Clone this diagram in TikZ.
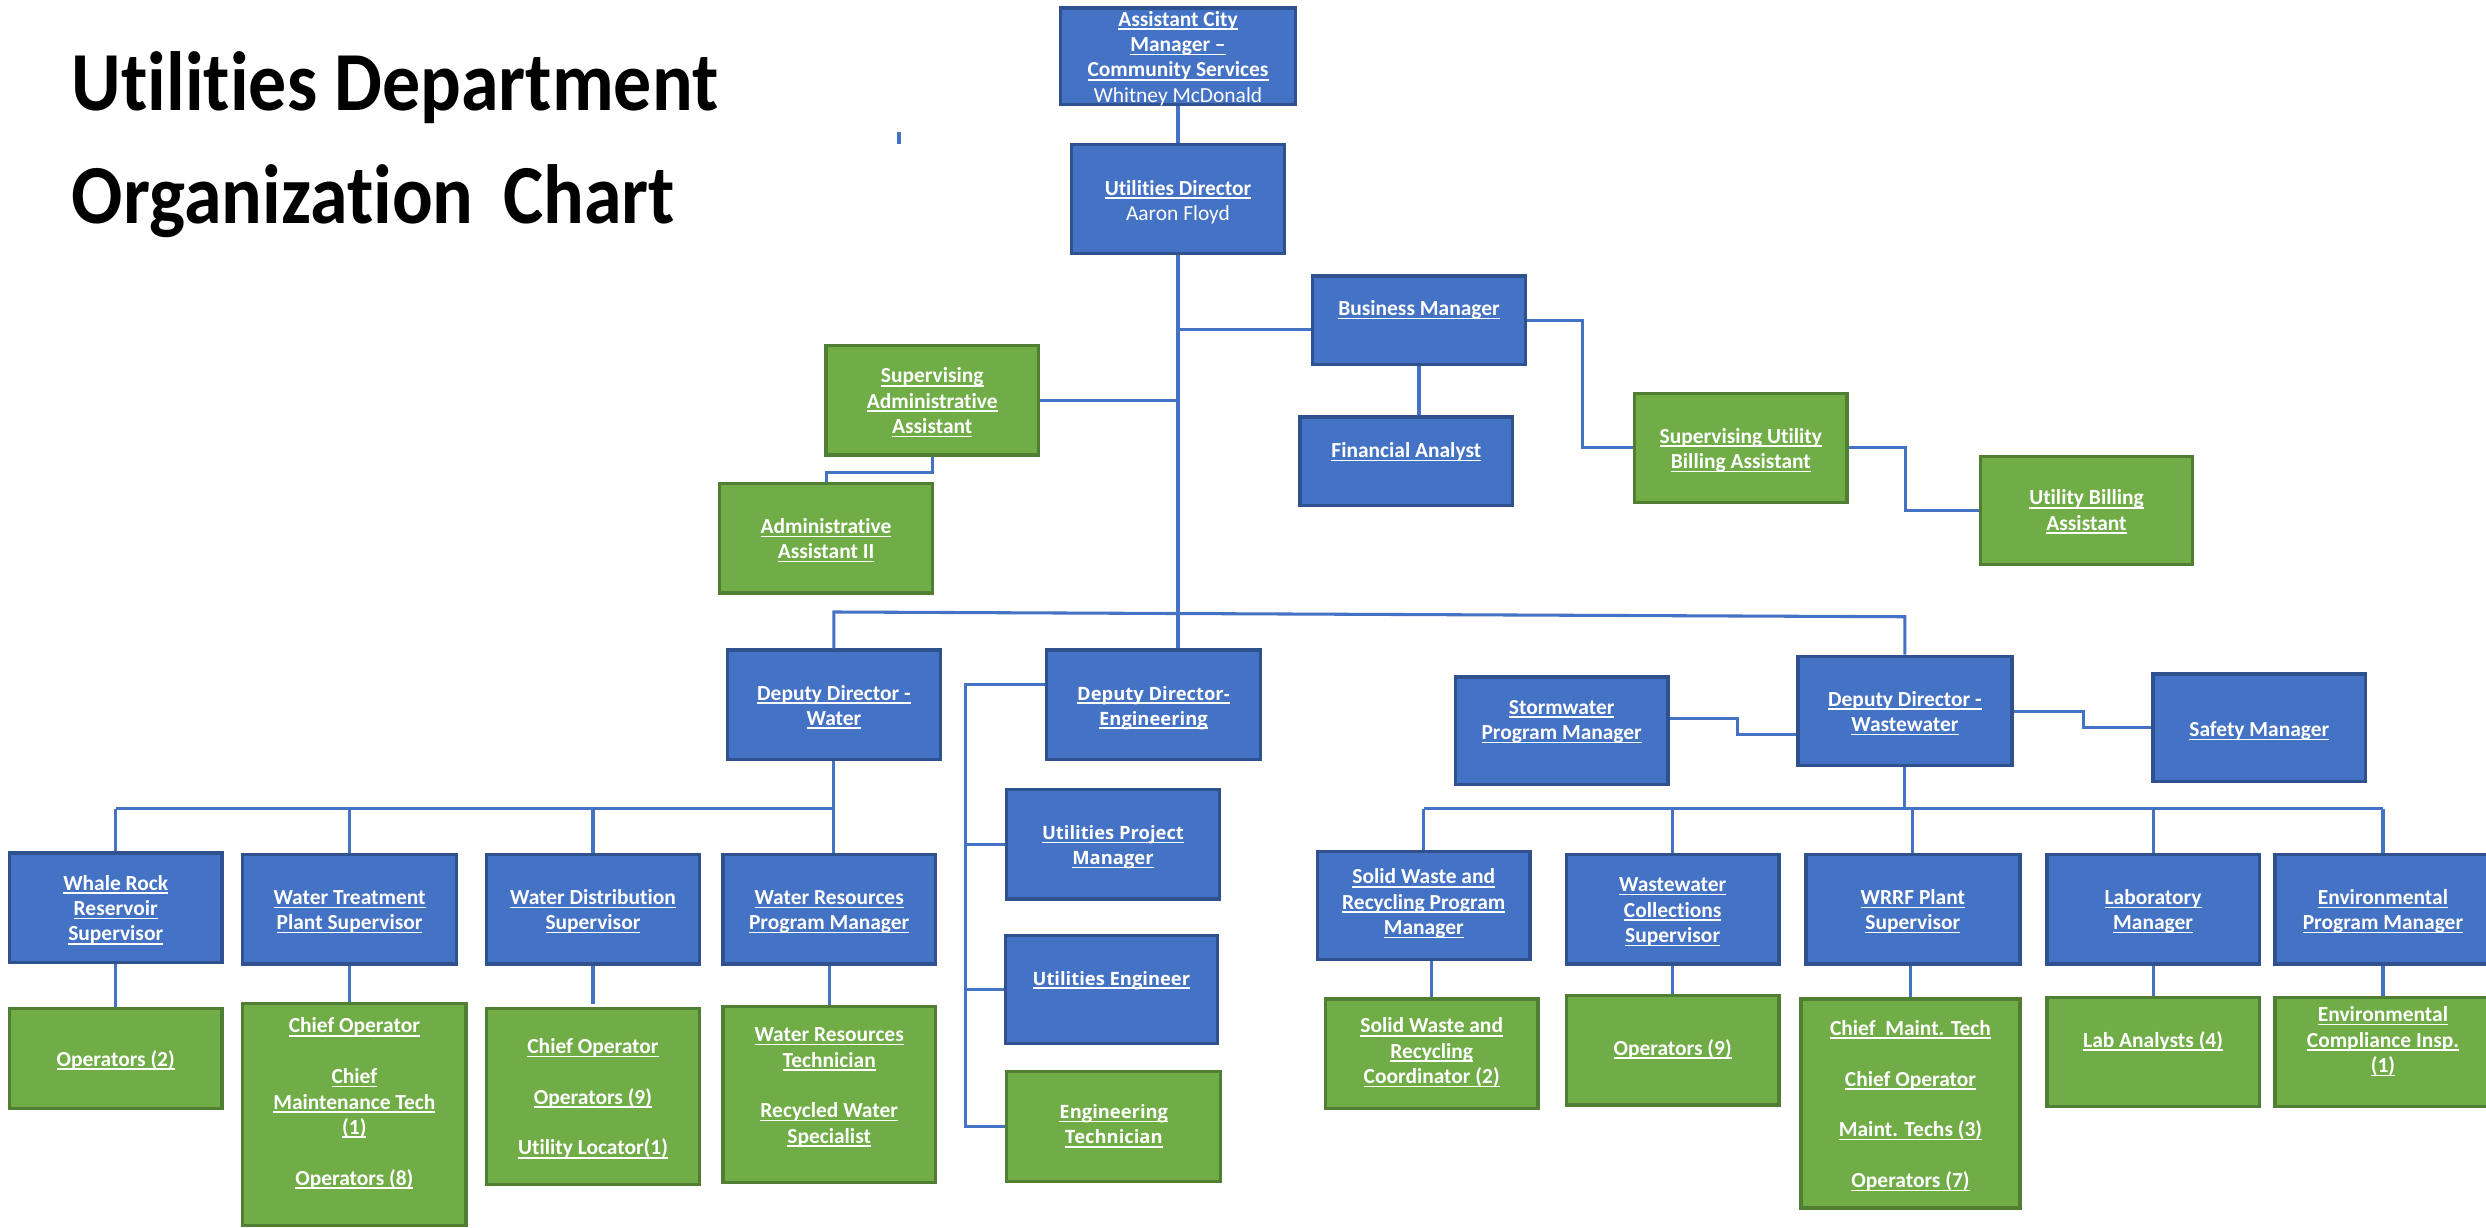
\documentclass[tikz,border=0pt]{standalone}
\usepackage{fontspec}
\setmainfont{Carlito}[Ligatures=NoCommon]
\newfontfamily\segoefont{Open Sans}[Ligatures=NoCommon]
\newfontfamily\titlefont{Carlito}[Ligatures=NoCommon]
\usetikzlibrary{fit}
\definecolor{bfill}{HTML}{4472C4}
\definecolor{bdraw}{HTML}{2F528F}
\definecolor{gfill}{HTML}{70AD47}
\definecolor{gdraw}{HTML}{507E32}
\definecolor{lineblue}{HTML}{4472C4}
\newcommand\undl[1]{\smash{\sbox0{#1}\rlap{\rule[-1.3pt]{\wd0}{0.55pt}}\usebox0}}
\newcommand\plainl[1]{\smash{#1}}
\begin{document}
\begin{tikzpicture}[x=0.02cm,y=-0.02cm,
  bx/.style={rectangle, draw=bdraw, fill=bfill, line width=1.2pt, inner sep=0pt},
  gx/.style={rectangle, draw=gdraw, fill=gfill, line width=1.2pt, inner sep=0pt},
  lbl/.style={text=white, font=\bfseries\fontsize{7.7}{9.1}\selectfont, align=center, inner sep=0pt},
  elbl/.style={text=white, font=\segoefont\bfseries\fontsize{6.6}{9.1}\selectfont, align=center, inner sep=0pt},
  cn/.style={draw=lineblue, line width=1.1pt}]
\useasboundingbox (0,0) rectangle (1568,774);

% title
\node[anchor=base west, inner sep=0pt] (title1) at (45,69.5) {\scalebox{0.94}[1.04]{\titlefont\bfseries\fontsize{29}{29}\selectfont Utilities Department}};
\node[anchor=base west, inner sep=0pt] (title2) at (45,141) {\scalebox{0.94}[1.04]{\titlefont\bfseries\fontsize{29}{29}\selectfont Organization\, Chart}};

% stray tick
\coordinate (tickA) at (567,83);
\coordinate (tickB) at (567,91);
\draw[cn] (tickA) -- (tickB);

% boxes
\node[bx, fit={(669,5) (817,66)}] (acm) {};
\node[bx, fit={(676,91) (810,160)}] (ud) {};
\node[bx, fit={(828,174) (962,230)}] (bm) {};
\node[bx, fit={(820,263) (954,319)}] (fa) {};
\node[gx, fit={(1031,248) (1165,317)}] (suba) {};
\node[gx, fit={(1249,288) (1383,356)}] (uba) {};
\node[gx, fit={(521,218) (655,287)}] (saa) {};
\node[gx, fit={(454,305) (588,374)}] (aa2) {};
\node[bx, fit={(459,410) (593,479)}] (ddw) {};
\node[bx, fit={(660,410) (795,479)}] (dde) {};
\node[bx, fit={(1134,414) (1269,483)}] (ddww) {};
\node[bx, fit={(918,427) (1052,495)}] (spm) {};
\node[bx, fit={(1358,425) (1492,493)}] (sm) {};
\node[bx, fit={(6,538) (140,607)}] (wr) {};
\node[bx, fit={(153,539) (288,608)}] (wt) {};
\node[bx, fit={(307,539) (441,608)}] (wd) {};
\node[bx, fit={(456,539) (590,608)}] (wrpm) {};
\node[gx, fit={(6,636) (140,699)}] (ops2) {};
\node[gx, fit={(153,633) (294,773)}] (wtg) {};
\node[gx, fit={(307,636) (441,747)}] (wdg) {};
\node[gx, fit={(456,635) (590,746)}] (wrpmg) {};
\node[bx, fit={(635,498) (769,567)}] (upm) {};
\node[bx, fit={(634,590) (768,658)}] (ue) {};
\node[gx, fit={(635,676) (770,745)}] (et) {};
\node[bx, fit={(831,537) (965,605)}] (swpm) {};
\node[bx, fit={(988,539) (1122,608)}] (wcs) {};
\node[bx, fit={(1139,539) (1274,608)}] (wrrf) {};
\node[bx, fit={(1291,539) (1425,608)}] (lm) {};
\node[bx, fit={(1435,539) (1571,608)}] (epm) {};
\node[gx, fit={(836,630) (970,699)}] (swg) {};
\node[gx, fit={(988,628) (1122,697)}] (ops9) {};
\node[gx, fit={(1136,630) (1274,762)}] (wrrfg) {};
\node[gx, fit={(1291,629) (1425,698)}] (lab) {};
\node[gx, fit={(1435,629) (1571,698)}] (eci) {};

% connectors
\draw[cn] (acm.south) -- (ud.north);
\draw[cn] (ud.south) -- (ud.south |- dde.north);
\draw[cn] (ud.south |- 0,208) -- (bm.west |- 0,208);
\draw[cn] (fa.north -| bm.south) -- (bm.south);
\draw[cn] (bm.east) -- ++(35,0) |- (suba.west);
\draw[cn] (suba.east) -- ++(36,0) |- (uba.west);
\draw[cn] (saa.east) -- (saa.east -| ud.south);
\draw[cn] (saa.south) -- ++(0,10) -| (aa2.north);
\coordinate (busL) at (ddw.north |- 0,386);
\draw[cn] (ddw.north) -- (busL) -- (ddww.north |- 0,389) -- (ddww.north);
% water
\coordinate (wb) at (ddw.south |- 0,510);
\draw[cn] (ddw.south) -- (ddw.south |- wrpm.north);
\draw[cn] (wr.north |- wb) -- (wb);
\draw[cn] (wr.north |- wb) -- (wr.north);
\draw[cn] (wt.north |- wb) -- (wt.north);
\draw[cn] (wd.north |- wb) -- (wd.north);
\draw[cn] (ops2.north |- wr.south) -- (ops2.north);
\draw[cn] (wtg.north -| wt.south) -- (wt.south);
\draw[cn] (wd.south) -- ([yshift=0.04cm]wdg.north);
\draw[cn] (wrpmg.north -| wrpm.south) -- (wrpm.south);
% engineering
\coordinate (ej) at (609,432);
\draw[cn] (dde.west |- ej) -- (ej) |- (et.west);
\draw[cn] (ej |- upm.west) -- (upm.west);
\draw[cn] (ej |- ue.west) -- (ue.west);
% wastewater
\draw[cn] (spm.east |- 0,453) -- ++(43,0) |- (ddww.west |- 0,463);
\draw[cn] (ddww.east) -- ++(44,0) |- (sm.west);
\coordinate (wwb) at (ddww.south |- 0,510);
\draw[cn] (ddww.south) -- (wwb);
\draw[cn] (swpm.north |- wwb) -- (epm.north |- wwb);
\draw[cn] (swpm.north |- wwb) -- (swpm.north);
\draw[cn] (wcs.north |- wwb) -- (wcs.north);
\draw[cn] (wrrf.north |- wwb) -- (wrrf.north);
\draw[cn] (lm.north |- wwb) -- (lm.north);
\draw[cn] (epm.north |- wwb) -- (epm.north);
\draw[cn] (swg.north |- swpm.south) -- (swg.north);
\draw[cn] (ops9.north |- wcs.south) -- (ops9.north);
\draw[cn] (wrrfg.north |- wrrf.south) -- (wrrfg.north);
\draw[cn] (lab.north |- lm.south) -- (lab.north);
\draw[cn] (eci.north |- epm.south) -- (eci.north);

% labels
\node[lbl] (acm-t) at (acm.center |- 0,40.5) {\undl{Assistant City}\\\undl{Manager –}\\\undl{Community Services}\\\plainl{\mdseries Whitney McDonald}};
\node[lbl] (ud-t) at (ud.center |- 0,131) {\undl{Utilities Director}\\\plainl{\mdseries Aaron Floyd}};
\node[lbl] (bm-t) at (bm.center |- 0,199) {\undl{Business Manager}};
\node[lbl] (fa-t) at (fa.center |- 0,288.5) {\undl{Financial Analyst}};
\node[lbl] (suba-t) at (suba.center |- 0,287.5) {\undl{Supervising Utility}\\\undl{Billing Assistant}};
\node[lbl] (uba-t) at (uba.center |- 0,326.5) {\undl{Utility Billing}\\\undl{Assistant}};
\node[lbl] (saa-t) at (saa.center |- 0,257.5) {\undl{Supervising}\\\undl{Administrative}\\\undl{Assistant}};
\node[lbl] (aa2-t) at (aa2.center |- 0,344.5) {\undl{Administrative}\\\undl{Assistant II}};
\node[lbl] (ddw-t) at (ddw.center |- 0,449.5) {\undl{Deputy Director -}\\\undl{Water}};
\node[elbl] (dde-t) at (dde.center |- 0,449.5) {\undl{Deputy Director-}\\\undl{Engineering}};
\node[lbl] (ddww-t) at (ddww.center |- 0,453.5) {\undl{Deputy Director -}\\\undl{Wastewater}};
\node[lbl] (spm-t) at (spm.center |- 0,458.5) {\undl{Stormwater}\\\undl{Program Manager}};
\node[lbl] (sm-t) at (sm.center |- 0,464.5) {\undl{Safety Manager}};
\node[lbl] (wr-t) at (wr.center |- 0,577.5) {\undl{Whale Rock}\\\undl{Reservoir}\\\undl{Supervisor}};
\node[lbl] (wt-t) at (wt.center |- 0,578.5) {\undl{Water Treatment}\\\undl{Plant Supervisor}};
\node[lbl] (wd-t) at (wd.center |- 0,578.5) {\undl{Water Distribution}\\\undl{Supervisor}};
\node[lbl] (wrpm-t) at (wrpm.center |- 0,578.5) {\undl{Water Resources}\\\undl{Program Manager}};
\node[lbl] (ops2-t) at (ops2.center |- 0,672.5) {\undl{Operators (2)}};
\node[lbl] (wtg-t) at (wtg.center |- 0,699.5) {\undl{Chief Operator}\\[9.1pt]\undl{Chief}\\\undl{Maintenance Tech}\\\undl{(1)}\\[9.1pt]\undl{Operators (8)}};
\node[lbl] (wdg-t) at (wdg.center |- 0,696.5) {\undl{Chief Operator}\\[9.1pt]\undl{Operators (9)}\\[9.1pt]\undl{Utility Locator(1)}};
\node[lbl] (wrpmg-t) at (wrpmg.center |- 0,689) {\undl{Water Resources}\\\undl{Technician}\\[9.1pt]\undl{Recycled Water}\\\undl{Specialist}};
\node[elbl] (upm-t) at (upm.center |- 0,537.5) {\undl{Utilities Project}\\\undl{Manager}};
\node[elbl] (ue-t) at (ue.center |- 0,621.5) {\undl{Utilities Engineer}};
\node[elbl] (et-t) at (et.center |- 0,713.5) {\undl{Engineering}\\\undl{Technician}};
\node[lbl] (swpm-t) at (swpm.center |- 0,573.5) {\undl{Solid Waste and}\\\undl{Recycling Program}\\\undl{Manager}};
\node[lbl] (wcs-t) at (wcs.center |- 0,578.5) {\undl{Wastewater}\\\undl{Collections}\\\undl{Supervisor}};
\node[lbl] (wrrf-t) at (wrrf.center |- 0,578.5) {\undl{WRRF Plant}\\\undl{Supervisor}};
\node[lbl] (lm-t) at (lm.center |- 0,578.5) {\undl{Laboratory}\\\undl{Manager}};
\node[lbl] (epm-t) at (epm.center |- 0,578.5) {\undl{Environmental}\\\undl{Program Manager}};
\node[lbl] (swg-t) at (swg.center |- 0,667.5) {\undl{Solid Waste and}\\\undl{Recycling}\\\undl{Coordinator (2)}};
\node[lbl] (ops9-t) at (ops9.center |- 0,665.5) {\undl{Operators (9)}};
\node[lbl] (wrrfg-t) at (wrrfg.center |- 0,701) {\undl{Chief\ \ Maint. Tech}\\[9.1pt]\undl{Chief Operator}\\[9.1pt]\undl{Maint. Techs (3)}\\[9.1pt]\undl{Operators (7)}};
\node[lbl] (lab-t) at (lab.center |- 0,660.5) {\undl{Lab Analysts (4)}};
\node[lbl] (eci-t) at (eci.center |- 0,660.5) {\undl{Environmental}\\\undl{Compliance Insp.}\\\undl{(1)}};
\end{tikzpicture}
\end{document}
